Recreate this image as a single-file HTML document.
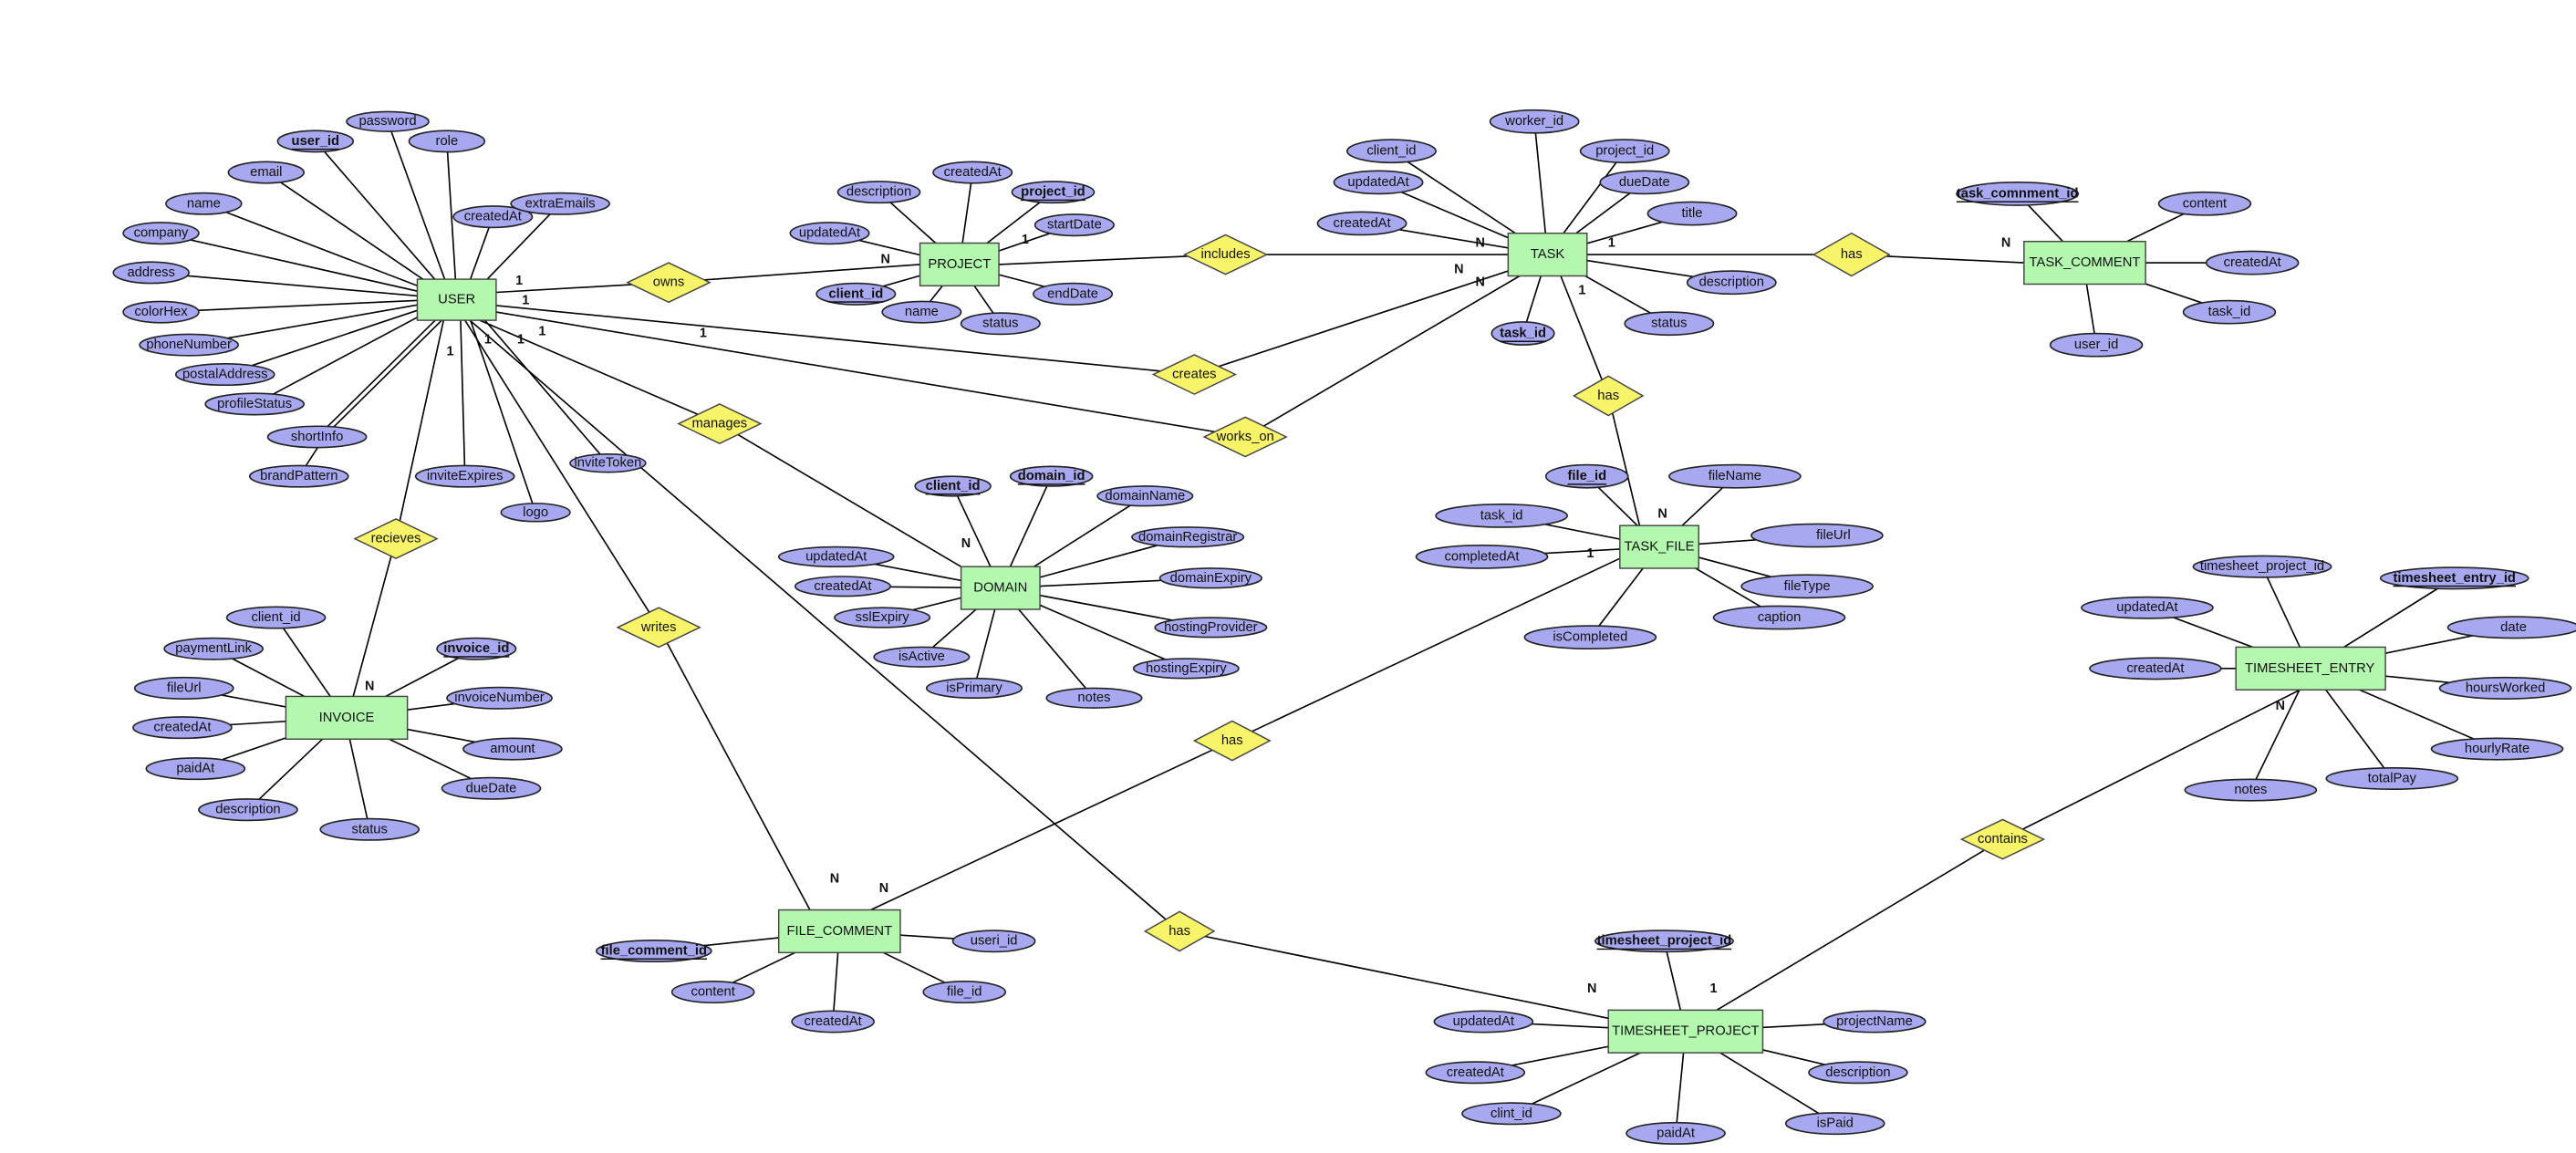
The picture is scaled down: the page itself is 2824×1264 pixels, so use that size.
<!DOCTYPE html>
<html><head><meta charset="utf-8"><style>
html,body{margin:0;padding:0;background:#fff;}
svg{display:block;}
text{font-family:"Liberation Sans","DejaVu Sans",sans-serif;font-size:8.2px;text-anchor:middle;dominant-baseline:central;fill:#111;}
.b{font-weight:bold;text-decoration:underline;}
.c{font-size:8px;font-weight:bold;}
ellipse{fill:#a8a8f0;stroke:#222;stroke-width:0.9;}
rect{fill:#b4f8b0;stroke:#444;stroke-width:0.8;}
polygon{fill:#f8f46a;stroke:#444;stroke-width:0.8;}
line,polyline{stroke:#000;stroke-width:0.9;fill:none;}
</style></head><body>
<svg width="2824" height="1264" viewBox="0 0 1568 702" preserveAspectRatio="none">
<g>
<line x1="236" y1="74" x2="275" y2="182"/><line x1="192" y1="86" x2="275" y2="182"/><line x1="272" y1="86" x2="278" y2="182"/>
<line x1="162" y1="105" x2="275" y2="182"/><line x1="300" y1="132" x2="282" y2="182"/><line x1="124" y1="124" x2="275" y2="182"/>
<line x1="341" y1="124" x2="285" y2="182"/><line x1="98" y1="142" x2="275" y2="182"/><line x1="92" y1="166" x2="275" y2="182"/>
<line x1="98" y1="190" x2="275" y2="182"/><line x1="115" y1="210" x2="275" y2="182"/><line x1="137" y1="228" x2="275" y2="182"/>
<line x1="155" y1="246" x2="275" y2="182"/><line x1="193" y1="266" x2="270" y2="190"/><line x1="197" y1="266" x2="274" y2="190"/><line x1="182" y1="290" x2="195" y2="270"/>
<line x1="283" y1="290" x2="280" y2="182"/><line x1="326" y1="312" x2="282" y2="182"/><line x1="370" y1="282" x2="284" y2="182"/>
<polyline points="302,178 407,172 560,161"/>
<polyline points="302,186 727,228 918,165"/>
<polyline points="302,190 758,266 925,168"/>
<polyline points="608,161 746,155 918,155"/>
<polyline points="292,195 438,258 590,348"/>
<polyline points="270,195 241,328 215,424"/>
<polyline points="283,195 401,382 493,554"/>
<polyline points="286,195 718,567 979,620"/>
<polyline points="966,155 1127,155 1232,160"/>
<polyline points="950,168 979,241 998,320"/>
<polyline points="986,340 750,451 530,554"/>
<polyline points="1400,420 1219,511 1045,615"/>
<line x1="535" y1="117" x2="584" y2="161"/><line x1="592" y1="105" x2="584" y2="161"/><line x1="641" y1="117" x2="584" y2="161"/>
<line x1="505" y1="142" x2="584" y2="161"/><line x1="654" y1="137" x2="584" y2="161"/><line x1="521" y1="179" x2="584" y2="161"/>
<line x1="561" y1="190" x2="584" y2="161"/><line x1="609" y1="197" x2="584" y2="161"/><line x1="653" y1="179" x2="584" y2="161"/>
<line x1="934" y1="74" x2="942" y2="155"/><line x1="847" y1="92" x2="942" y2="155"/><line x1="989" y1="92" x2="942" y2="155"/>
<line x1="839" y1="111" x2="942" y2="155"/><line x1="1001" y1="111" x2="942" y2="155"/><line x1="1030" y1="130" x2="942" y2="155"/>
<line x1="829" y1="136" x2="942" y2="155"/><line x1="1054" y1="172" x2="942" y2="155"/><line x1="1016" y1="197" x2="942" y2="155"/>
<line x1="927" y1="203" x2="942" y2="155"/>
<line x1="1228" y1="118" x2="1268" y2="160"/><line x1="1342" y1="124" x2="1268" y2="160"/><line x1="1371" y1="160" x2="1268" y2="160"/>
<line x1="1357" y1="190" x2="1268" y2="160"/><line x1="1276" y1="210" x2="1268" y2="160"/>
<line x1="966" y1="290" x2="1010" y2="333"/><line x1="1056" y1="290" x2="1010" y2="333"/><line x1="914" y1="314" x2="1010" y2="333"/>
<line x1="1106" y1="326" x2="1010" y2="333"/><line x1="902" y1="339" x2="1010" y2="333"/><line x1="1100" y1="357" x2="1010" y2="333"/>
<line x1="1083" y1="376" x2="1010" y2="333"/><line x1="968" y1="388" x2="1010" y2="333"/>
<line x1="580" y1="296" x2="609" y2="358"/><line x1="640" y1="290" x2="609" y2="358"/><line x1="697" y1="302" x2="609" y2="358"/>
<line x1="723" y1="327" x2="609" y2="358"/><line x1="509" y1="339" x2="609" y2="358"/><line x1="513" y1="357" x2="609" y2="358"/>
<line x1="737" y1="352" x2="609" y2="358"/><line x1="537" y1="376" x2="609" y2="358"/><line x1="737" y1="382" x2="609" y2="358"/>
<line x1="561" y1="400" x2="609" y2="358"/><line x1="722" y1="407" x2="609" y2="358"/><line x1="593" y1="419" x2="609" y2="358"/>
<line x1="666" y1="425" x2="609" y2="358"/>
<line x1="168" y1="376" x2="210" y2="437"/><line x1="130" y1="395" x2="210" y2="437"/><line x1="290" y1="395" x2="210" y2="437"/>
<line x1="112" y1="419" x2="210" y2="437"/><line x1="304" y1="425" x2="210" y2="437"/><line x1="111" y1="443" x2="210" y2="437"/>
<line x1="312" y1="456" x2="210" y2="437"/><line x1="119" y1="468" x2="210" y2="437"/><line x1="299" y1="480" x2="210" y2="437"/>
<line x1="151" y1="493" x2="210" y2="437"/><line x1="225" y1="505" x2="210" y2="437"/>
<line x1="398" y1="579" x2="511" y2="567"/><line x1="605" y1="573" x2="511" y2="567"/><line x1="434" y1="604" x2="511" y2="567"/>
<line x1="587" y1="604" x2="511" y2="567"/><line x1="507" y1="622" x2="511" y2="567"/>
<line x1="1013" y1="573" x2="1026" y2="628"/><line x1="903" y1="622" x2="1026" y2="628"/><line x1="1141" y1="622" x2="1026" y2="628"/>
<line x1="898" y1="653" x2="1026" y2="628"/><line x1="1131" y1="653" x2="1026" y2="628"/><line x1="920" y1="678" x2="1026" y2="628"/>
<line x1="1020" y1="690" x2="1026" y2="628"/><line x1="1117" y1="684" x2="1026" y2="628"/>
<line x1="1377" y1="345" x2="1406" y2="407"/><line x1="1494" y1="352" x2="1406" y2="407"/><line x1="1307" y1="370" x2="1406" y2="407"/>
<line x1="1530" y1="382" x2="1406" y2="407"/><line x1="1312" y1="407" x2="1406" y2="407"/><line x1="1525" y1="419" x2="1406" y2="407"/>
<line x1="1520" y1="456" x2="1406" y2="407"/><line x1="1370" y1="481" x2="1406" y2="407"/><line x1="1456" y1="474" x2="1406" y2="407"/>
</g>

<rect x="254" y="170" width="48" height="25"/><text x="278" y="182.5">USER</text>
<rect x="560" y="148" width="48" height="26"/><text x="584" y="161">PROJECT</text>
<rect x="918" y="142" width="48" height="26"/><text x="942" y="155">TASK</text>
<rect x="1232" y="147" width="74" height="26"/><text x="1269" y="160">TASK_COMMENT</text>
<rect x="986" y="320" width="48" height="26"/><text x="1010" y="333">TASK_FILE</text>
<rect x="585" y="345" width="48" height="26"/><text x="609" y="358">DOMAIN</text>
<rect x="174" y="424" width="74" height="26"/><text x="211" y="437">INVOICE</text>
<rect x="474" y="554" width="74" height="26"/><text x="511" y="567">FILE_COMMENT</text>
<rect x="979" y="615" width="94" height="26"/><text x="1026" y="628">TIMESHEET_PROJECT</text>
<rect x="1361" y="394" width="91" height="26"/><text x="1406" y="407">TIMESHEET_ENTRY</text>

<polygon points="382,172 407,160 432,172 407,184"/><text x="407" y="172">owns</text>
<polygon points="721,155 746,143 771,155 746,167"/><text x="746" y="155">includes</text>
<polygon points="702,228 727,216 752,228 727,240"/><text x="727" y="228">creates</text>
<polygon points="733,266 758,254 783,266 758,278"/><text x="758" y="266">works_on</text>
<polygon points="413,258 438,246 463,258 438,270"/><text x="438" y="258">manages</text>
<polygon points="216,328 241,316 266,328 241,340"/><text x="241" y="328">recieves</text>
<polygon points="376,382 401,370 426,382 401,394"/><text x="401" y="382">writes</text>
<polygon points="1104,155 1127,142 1150,155 1127,168"/><text x="1127" y="155">has</text>
<polygon points="958,241 979,229 1000,241 979,253"/><text x="979" y="241">has</text>
<polygon points="727,451 750,439 773,451 750,463"/><text x="750" y="451">has</text>
<polygon points="697,567 718,555 739,567 718,579"/><text x="718" y="567">has</text>
<polygon points="1194,511 1219,499 1244,511 1219,523"/><text x="1219" y="511">contains</text>

<text class="c" x="316" y="171">1</text><text class="c" x="320" y="183">1</text><text class="c" x="428" y="203">1</text>
<text class="c" x="330" y="202">1</text><text class="c" x="317" y="207">1</text><text class="c" x="297" y="207">1</text><text class="c" x="274" y="214">1</text>
<text class="c" x="539" y="158">N</text><text class="c" x="624" y="146">1</text>
<text class="c" x="901" y="148">N</text><text class="c" x="888" y="164">N</text><text class="c" x="901" y="172">N</text><text class="c" x="963" y="177">1</text><text class="c" x="981" y="148">1</text>
<text class="c" x="1221" y="148">N</text><text class="c" x="1012" y="313">N</text><text class="c" x="968" y="337">1</text>
<text class="c" x="588" y="331">N</text><text class="c" x="225" y="418">N</text>
<text class="c" x="508" y="535">N</text><text class="c" x="538" y="541">N</text>
<text class="c" x="969" y="602">N</text><text class="c" x="1043" y="602">1</text><text class="c" x="1388" y="430">N</text>

<ellipse cx="236" cy="74" rx="25" ry="6"/><text x="236" y="74">password</text>
<ellipse cx="192" cy="86" rx="23" ry="6.5"/><text class="b" x="192" y="86">user_id</text>
<ellipse cx="272" cy="86" rx="23" ry="6.5"/><text x="272" y="86">role</text>
<ellipse cx="162" cy="105" rx="23" ry="6.5"/><text x="162" y="105">email</text>
<ellipse cx="300" cy="132" rx="24" ry="6.5"/><text x="300" y="132">createdAt</text>
<ellipse cx="124" cy="124" rx="23" ry="6.5"/><text x="124" y="124">name</text>
<ellipse cx="341" cy="124" rx="30" ry="6.5"/><text x="341" y="124">extraEmails</text>
<ellipse cx="98" cy="142" rx="23" ry="6.5"/><text x="98" y="142">company</text>
<ellipse cx="92" cy="166" rx="23" ry="6.5"/><text x="92" y="166">address</text>
<ellipse cx="98" cy="190" rx="23" ry="6.5"/><text x="98" y="190">colorHex</text>
<ellipse cx="115" cy="210" rx="30" ry="6.5"/><text x="115" y="210">phoneNumber</text>
<ellipse cx="137" cy="228" rx="30" ry="6.5"/><text x="137" y="228">postalAddress</text>
<ellipse cx="155" cy="246" rx="30" ry="6.5"/><text x="155" y="246">profileStatus</text>
<ellipse cx="193" cy="266" rx="30" ry="6.5"/><text x="193" y="266">shortInfo</text>
<ellipse cx="182" cy="290" rx="30" ry="6.5"/><text x="182" y="290">brandPattern</text>
<ellipse cx="283" cy="290" rx="30" ry="6.5"/><text x="283" y="290">inviteExpires</text>
<ellipse cx="326" cy="312" rx="21" ry="5.5"/><text x="326" y="312">logo</text>
<ellipse cx="370" cy="282" rx="23" ry="5.5"/><text x="370" y="282">inviteToken</text>

<ellipse cx="535" cy="117" rx="25" ry="6.5"/><text x="535" y="117">description</text>
<ellipse cx="592" cy="105" rx="24" ry="6.5"/><text x="592" y="105">createdAt</text>
<ellipse cx="641" cy="117" rx="25" ry="6.5"/><text class="b" x="641" y="117">project_id</text>
<ellipse cx="505" cy="142" rx="24" ry="6.5"/><text x="505" y="142">updatedAt</text>
<ellipse cx="654" cy="137" rx="24" ry="6.5"/><text x="654" y="137">startDate</text>
<ellipse cx="521" cy="179" rx="24" ry="6.5"/><text class="b" x="521" y="179">client_id</text>
<ellipse cx="561" cy="190" rx="24" ry="6.5"/><text x="561" y="190">name</text>
<ellipse cx="609" cy="197" rx="24" ry="6.5"/><text x="609" y="197">status</text>
<ellipse cx="653" cy="179" rx="24" ry="6.5"/><text x="653" y="179">endDate</text>

<ellipse cx="934" cy="74" rx="27" ry="7"/><text x="934" y="74">worker_id</text>
<ellipse cx="847" cy="92" rx="27" ry="7"/><text x="847" y="92">client_id</text>
<ellipse cx="989" cy="92" rx="27" ry="7"/><text x="989" y="92">project_id</text>
<ellipse cx="839" cy="111" rx="27" ry="7"/><text x="839" y="111">updatedAt</text>
<ellipse cx="1001" cy="111" rx="27" ry="7"/><text x="1001" y="111">dueDate</text>
<ellipse cx="1030" cy="130" rx="27" ry="7"/><text x="1030" y="130">title</text>
<ellipse cx="829" cy="136" rx="27" ry="7"/><text x="829" y="136">createdAt</text>
<ellipse cx="1054" cy="172" rx="27" ry="7"/><text x="1054" y="172">description</text>
<ellipse cx="1016" cy="197" rx="27" ry="7"/><text x="1016" y="197">status</text>
<ellipse cx="927" cy="203" rx="19" ry="7"/><text class="b" x="927" y="203">task_id</text>

<ellipse cx="1228" cy="118" rx="37" ry="7"/><text class="b" x="1228" y="118">task_comnment_id</text>
<ellipse cx="1342" cy="124" rx="28" ry="7"/><text x="1342" y="124">content</text>
<ellipse cx="1371" cy="160" rx="28" ry="7"/><text x="1371" y="160">createdAt</text>
<ellipse cx="1357" cy="190" rx="28" ry="7"/><text x="1357" y="190">task_id</text>
<ellipse cx="1276" cy="210" rx="28" ry="7"/><text x="1276" y="210">user_id</text>

<ellipse cx="966" cy="290" rx="25" ry="7"/><text class="b" x="966" y="290">file_id</text>
<ellipse cx="1056" cy="290" rx="40" ry="7"/><text x="1056" y="290">fileName</text>
<ellipse cx="914" cy="314" rx="40" ry="7"/><text x="914" y="314">task_id</text>
<ellipse cx="1106" cy="326" rx="40" ry="7"/><text x="1116" y="326">fileUrl</text>
<ellipse cx="902" cy="339" rx="40" ry="7"/><text x="902" y="339">completedAt</text>
<ellipse cx="1100" cy="357" rx="40" ry="7"/><text x="1100" y="357">fileType</text>
<ellipse cx="1083" cy="376" rx="40" ry="7"/><text x="1083" y="376">caption</text>
<ellipse cx="968" cy="388" rx="40" ry="7"/><text x="968" y="388">isCompleted</text>

<ellipse cx="580" cy="296" rx="23" ry="6"/><text class="b" x="580" y="296">client_id</text>
<ellipse cx="640" cy="290" rx="25" ry="6"/><text class="b" x="640" y="290">domain_id</text>
<ellipse cx="697" cy="302" rx="29" ry="6"/><text x="697" y="302">domainName</text>
<ellipse cx="723" cy="327" rx="34" ry="6"/><text x="723" y="327">domainRegistrar</text>
<ellipse cx="509" cy="339" rx="35" ry="6"/><text x="509" y="339">updatedAt</text>
<ellipse cx="513" cy="357" rx="29" ry="6"/><text x="513" y="357">createdAt</text>
<ellipse cx="737" cy="352" rx="31" ry="6"/><text x="737" y="352">domainExpiry</text>
<ellipse cx="537" cy="376" rx="29" ry="6"/><text x="537" y="376">sslExpiry</text>
<ellipse cx="737" cy="382" rx="34" ry="6"/><text x="737" y="382">hostingProvider</text>
<ellipse cx="561" cy="400" rx="29" ry="6"/><text x="561" y="400">isActive</text>
<ellipse cx="722" cy="407" rx="32" ry="6"/><text x="722" y="407">hostingExpiry</text>
<ellipse cx="593" cy="419" rx="29" ry="6"/><text x="593" y="419">isPrimary</text>
<ellipse cx="666" cy="425" rx="29" ry="6"/><text x="666" y="425">notes</text>

<ellipse cx="168" cy="376" rx="30" ry="6.5"/><text x="168" y="376">client_id</text>
<ellipse cx="130" cy="395" rx="30" ry="6.5"/><text x="130" y="395">paymentLink</text>
<ellipse cx="290" cy="395" rx="24" ry="6.5"/><text class="b" x="290" y="395">invoice_id</text>
<ellipse cx="304" cy="425" rx="32" ry="6.5"/><text x="304" y="425">invoiceNumber</text>
<ellipse cx="112" cy="419" rx="30" ry="6.5"/><text x="112" y="419">fileUrl</text>
<ellipse cx="111" cy="443" rx="30" ry="6.5"/><text x="111" y="443">createdAt</text>
<ellipse cx="312" cy="456" rx="30" ry="6.5"/><text x="312" y="456">amount</text>
<ellipse cx="119" cy="468" rx="30" ry="6.5"/><text x="119" y="468">paidAt</text>
<ellipse cx="299" cy="480" rx="30" ry="6.5"/><text x="299" y="480">dueDate</text>
<ellipse cx="151" cy="493" rx="30" ry="6.5"/><text x="151" y="493">description</text>
<ellipse cx="225" cy="505" rx="30" ry="6.5"/><text x="225" y="505">status</text>

<ellipse cx="398" cy="579" rx="35" ry="6.5"/><text class="b" x="398" y="579">file_comment_id</text>
<ellipse cx="605" cy="573" rx="25" ry="6.5"/><text x="605" y="573">useri_id</text>
<ellipse cx="434" cy="604" rx="25" ry="6.5"/><text x="434" y="604">content</text>
<ellipse cx="587" cy="604" rx="25" ry="6.5"/><text x="587" y="604">file_id</text>
<ellipse cx="507" cy="622" rx="25" ry="6.5"/><text x="507" y="622">createdAt</text>

<ellipse cx="1013" cy="573" rx="42" ry="6.5"/><text class="b" x="1013" y="573">timesheet_project_id</text>
<ellipse cx="903" cy="622" rx="30" ry="6.5"/><text x="903" y="622">updatedAt</text>
<ellipse cx="1141" cy="622" rx="31" ry="6.5"/><text x="1141" y="622">projectName</text>
<ellipse cx="898" cy="653" rx="30" ry="6.5"/><text x="898" y="653">createdAt</text>
<ellipse cx="1131" cy="653" rx="30" ry="6.5"/><text x="1131" y="653">description</text>
<ellipse cx="920" cy="678" rx="30" ry="6.5"/><text x="920" y="678">clint_id</text>
<ellipse cx="1020" cy="690" rx="30" ry="6.5"/><text x="1020" y="690">paidAt</text>
<ellipse cx="1117" cy="684" rx="30" ry="6.5"/><text x="1117" y="684">isPaid</text>

<ellipse cx="1377" cy="345" rx="42" ry="6.5"/><text x="1377" y="345">timesheet_project_id</text>
<ellipse cx="1494" cy="352" rx="45" ry="6.5"/><text class="b" x="1494" y="352">timesheet_entry_id</text>
<ellipse cx="1307" cy="370" rx="40" ry="6.5"/><text x="1307" y="370">updatedAt</text>
<ellipse cx="1530" cy="382" rx="40" ry="6.5"/><text x="1530" y="382">date</text>
<ellipse cx="1312" cy="407" rx="40" ry="6.5"/><text x="1312" y="407">createdAt</text>
<ellipse cx="1525" cy="419" rx="40" ry="6.5"/><text x="1525" y="419">hoursWorked</text>
<ellipse cx="1520" cy="456" rx="40" ry="6.5"/><text x="1520" y="456">hourlyRate</text>
<ellipse cx="1370" cy="481" rx="40" ry="6.5"/><text x="1370" y="481">notes</text>
<ellipse cx="1456" cy="474" rx="40" ry="6.5"/><text x="1456" y="474">totalPay</text>
</svg>
</body></html>
